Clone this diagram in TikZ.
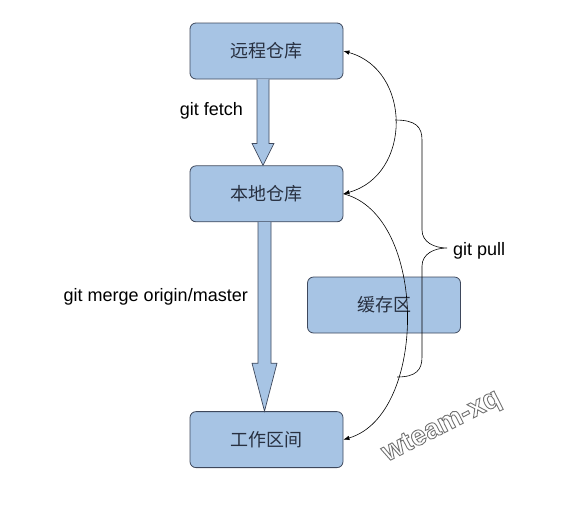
\documentclass[tikz,border=0pt]{standalone}
\usepackage{fontspec}
\setmainfont{Liberation Sans}
\newfontfamily\cjk{Noto Sans CJK SC}
\usetikzlibrary{arrows.meta,positioning,calc}
\definecolor{boxfill}{RGB}{167,196,228}
\definecolor{boxline}{RGB}{62,72,92}
\definecolor{boxtext}{RGB}{40,48,64}
\newcommand\outlinetext[1]{\special{pdf:code q 1 Tr 0.9 w 0.45 0.45 0.45 RG}#1\special{pdf:code Q}}

\begin{document}
\begin{tikzpicture}[x=1pt, y=-1pt, >={Latex[length=6pt,width=4.5pt]}, font=\fontsize{18}{20}\selectfont]
\useasboundingbox (0,0) rectangle (561,504);
\tikzset{repo/.style={draw=boxline,fill=boxfill,rounded corners=6pt,line width=0.8pt,minimum width=153pt,minimum height=56pt,text=boxtext,font=\cjk\fontsize{18}{20}\selectfont},
  bigarrow/.style={draw=boxline,fill=boxfill,line width=0.7pt,line join=miter},
  thin/.style={line width=0.6pt}}
\node(remote)[repo] at (266.5,51){远程仓库};
\node(local)[repo,below=86pt of remote]{本地仓库};
\node(work)[repo,below=189pt of local]{工作区间};
\node(stage)[repo] at (384,305){缓存区};

% block arrows
\draw[bigarrow] ($(remote.south)+(-9.5,0)$) -- ($(local.north)+(-9.5,-22)$) -- ($(local.north)+(-14.5,-22)$) -- ($(local.north)+(-3.5,0)$)
  -- ($(local.north)+(7.5,-22)$) -- ($(local.north)+(2.5,-22)$) -- ($(remote.south)+(2.5,0)$);
\draw[bigarrow] ($(local.south)+(-8.5,0)$) -- ($(work.north)+(-8.5,-48)$) -- ($(work.north)+(-14.5,-48)$) -- ($(work.north)+(-2,0)$)
  -- ($(work.north)+(10.5,-48)$) -- ($(work.north)+(4.5,-48)$) -- ($(local.south)+(4.5,0)$);
\node(fetchlbl)[anchor=east,inner sep=0pt] at (243,111){git fetch};
\node(mergelbl)[anchor=east,inner sep=0pt] at (248,297){git merge origin/master};

% curved arrows
\draw[<->,thin] (remote.east) .. controls (412,70) and (412,175) .. (local.east);
\draw[->,thin] (local.east) .. controls (428,215) and (428,415) .. (work.east);

% brace
\coordinate (bracetop) at (395,120);
\coordinate (bracetip) at (447,248);
\coordinate (bracebot) at (397,377);
\draw[thin] (bracetop) .. controls (416,120) and (422,127) .. (422,140) -- (422,230)
  .. controls (422,242) and (434,248) .. (bracetip)
  .. controls (434,248) and (422,254) .. (422,266) -- (422,357)
  .. controls (422,370) and (416,377) .. (bracebot);
\node(pull)[anchor=west,inner sep=0pt] at (453,251){git pull};

\node(mark)[rotate=27,font=\fontsize{28}{28}\selectfont\bfseries] at (442,427){\outlinetext{wteam-xq}};
\end{tikzpicture}
\end{document}
